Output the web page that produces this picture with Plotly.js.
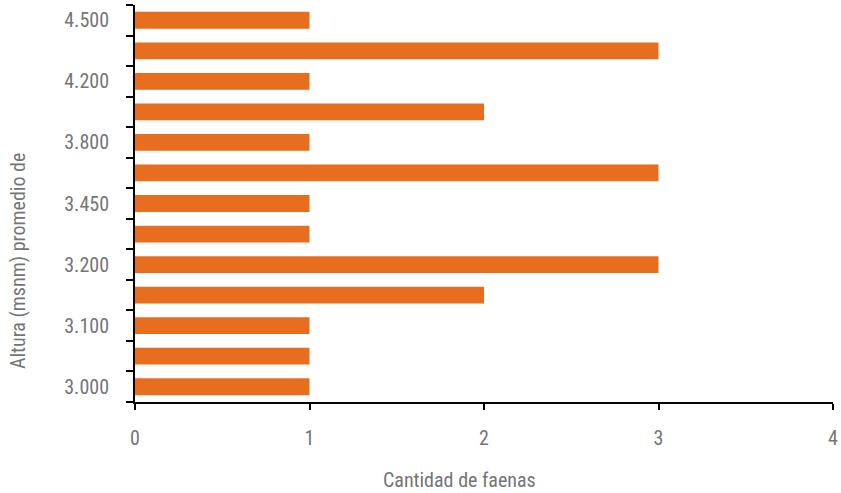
<!DOCTYPE html>
<html>
<head>
<meta charset="utf-8">
<script src="https://cdn.plot.ly/plotly-3.0.1.min.js"></script>
<style>
  html, body { margin: 0; padding: 0; background: #fff; }
  #chart { width: 841px; height: 493px; }
</style>
</head>
<body>
<div id="chart"></div>
<script>
// Altitude classes (msnm), bottom to top
const alturas = ['3.000', '3.050', '3.100', '3.150', '3.200', '3.350', '3.450',
                 '3.600', '3.800', '4.000', '4.200', '4.400', '4.500'];
// Number of mining sites per altitude class
const faenas = [1, 1, 1, 2, 3, 1, 1, 3, 1, 2, 1, 3, 1];
// Only every other altitude class carries a visible label
const etiquetas = alturas.map((a, i) => (i % 2 === 0 ? a : ''));

const FONT = 'Liberation Sans Narrow, Roboto Condensed, Arial Narrow, sans-serif';
const GRIS = '#757575';

const trace = {
  type: 'bar',
  orientation: 'h',
  y: alturas,
  x: faenas,
  marker: { color: '#E86E1F' },
  hoverinfo: 'x+y'
};

const layout = {
  width: 841,
  height: 493,
  margin: { l: 135, r: 8, t: 5, b: 91 },
  paper_bgcolor: '#fff',
  plot_bgcolor: '#fff',
  bargap: 0.45,
  showlegend: false,
  font: { family: FONT, size: 20, color: GRIS },
  xaxis: {
    range: [0, 4],
    tickvals: [0, 1, 2, 3, 4],
    showgrid: false,
    zeroline: false,
    showline: true,
    linecolor: '#000',
    linewidth: 2,
    ticks: 'outside',
    ticklen: 6,
    tickwidth: 2,
    tickcolor: '#000',
    ticklabelstandoff: 11,
    tickfont: { family: FONT, size: 20, color: GRIS }
  },
  yaxis: {
    type: 'category',
    categoryorder: 'array',
    categoryarray: alturas,
    tickvals: alturas,
    ticktext: etiquetas,
    tickson: 'boundaries',
    showgrid: false,
    zeroline: false,
    showline: true,
    linecolor: '#000',
    linewidth: 2,
    ticks: 'outside',
    ticklen: 7,
    tickwidth: 2,
    tickcolor: '#000',
    ticklabelstandoff: 20,
    tickfont: { family: FONT, size: 20, color: GRIS }
  },
  annotations: [
    {
      text: 'Altura (msnm) promedio de',
      xref: 'paper', yref: 'paper',
      x: -0.1676, y: 0.355,
      xanchor: 'center', yanchor: 'middle',
      textangle: -90,
      showarrow: false,
      font: { family: FONT, size: 20, color: GRIS }
    },
    {
      text: 'Cantidad de faenas',
      xref: 'paper', yref: 'paper',
      x: 0.4656, y: -0.196,
      xanchor: 'center', yanchor: 'middle',
      showarrow: false,
      font: { family: FONT, size: 20, color: GRIS }
    }
  ]
};

Plotly.newPlot('chart', [trace], layout, { displayModeBar: false, staticPlot: true });
</script>
</body>
</html>
